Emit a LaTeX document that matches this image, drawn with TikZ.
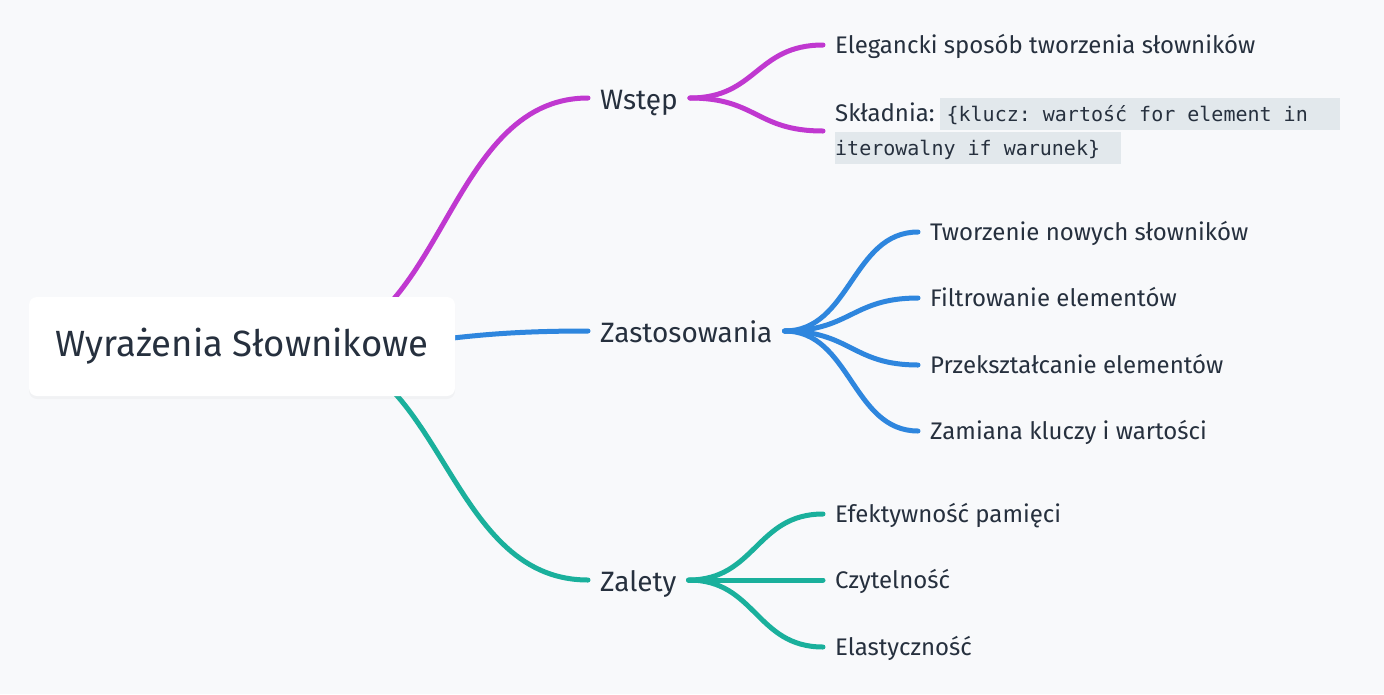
\documentclass[tikz,border=0pt]{standalone}
\usepackage{fontspec}
\setmainfont{Fira Sans}
\setmonofont{DejaVu Sans Mono}
\usetikzlibrary{backgrounds, shadows}
\definecolor{bgc}{RGB}{248,249,251}
\definecolor{txt}{RGB}{38,48,62}
\definecolor{purp}{RGB}{192,56,208}
\definecolor{blu}{RGB}{46,134,222}
\definecolor{tealc}{RGB}{26,176,156}
\definecolor{codebg}{RGB}{226,232,236}
\setlength{\fboxsep}{0pt}
\tikzset{
	branch/.style={line width=5pt, line cap=round},
	rootbox/.style={fill=white, rounded corners=8pt, minimum width=426pt, minimum height=99pt, text=txt, font=\fontsize{36.5}{42}\selectfont, drop shadow={shadow xshift=0pt, shadow yshift=-3pt, opacity=.05}},
	topic/.style={anchor=west, inner xsep=12pt, inner ysep=0pt, text height=23pt, text depth=0pt, text=txt, font=\fontsize{28}{34}\selectfont},
	leaf/.style={anchor=west, inner xsep=12pt, inner ysep=0pt, text height=17pt, text depth=0pt, text=txt, font=\fontsize{24}{28}\selectfont},
	syntax/.style={anchor=west, inner xsep=12pt, inner ysep=0pt, align=left, text=txt, font=\fontsize{24}{34}\selectfont}
}
\newcommand{\twig}[4]{\draw[branch, #1](#2) .. controls +(#4, 0) and +(-#4, 0) .. (#3);}
\newcommand{\chip}[3]{\colorbox{codebg}{\rule[-9pt]{0pt}{32pt}\hspace*{#1}\makebox[#2][l]{\ttfamily\fontsize{20}{24}\selectfont #3}}}

\begin{document}
\begin{tikzpicture}[x=1pt, y=-1pt]
	\useasboundingbox (0, 0) rectangle (1384, 694);
	\node[rootbox] (root) at (242, 346.5) {Wyrażenia Słownikowe};
	\coordinate (hub) at (300, 347);
	\node[topic] (wstep) at (588, 98) {Wstęp};
	\node[topic] (zast) at (588, 331) {Zastosowania};
	\node[topic] (zalety) at (588, 580) {Zalety};
	\node[leaf] (eleg) at (823, 45) {Elegancki sposób tworzenia słowników};
	\node[syntax] (skl) at (823, 131) {Składnia:\hspace{5pt}\chip{7pt}{393pt}{\{klucz: wartość for element in}\\\chip{0pt}{286pt}{iterowalny if warunek\}}};
	\node[leaf] (tworz) at (918, 232) {Tworzenie nowych słowników};
	\node[leaf] (filtr) at (918, 298) {Filtrowanie elementów};
	\node[leaf] (przek) at (918, 365) {Przekształcanie elementów};
	\node[leaf] (zamiana) at (918, 431) {Zamiana kluczy i wartości};
	\node[leaf] (efekt) at (823, 514) {Efektywność pamięci};
	\node[leaf] (czyt) at (823, 580) {Czytelność};
	\node[leaf] (elast) at (823, 647) {Elastyczność};
	\begin{scope}[on background layer]
		\fill[bgc](0, 0) rectangle (1384, 694);
		\twig{purp}{hub}{wstep.west}{144}
		\twig{blu}{hub}{zast.west}{144}
		\twig{tealc}{hub}{zalety.west}{144}
		\twig{purp}{wstep.east}{eleg.west}{67}
		\twig{purp}{wstep.east}{skl.west}{67}
		\twig{blu}{zast.east}{tworz.west}{66}
		\twig{blu}{zast.east}{filtr.west}{66}
		\twig{blu}{zast.east}{przek.west}{66}
		\twig{blu}{zast.east}{zamiana.west}{66}
		\twig{tealc}{zalety.east}{efekt.west}{67}
		\twig{tealc}{zalety.east}{czyt.west}{67}
		\twig{tealc}{zalety.east}{elast.west}{67}
	\end{scope}
\end{tikzpicture}
\end{document}
